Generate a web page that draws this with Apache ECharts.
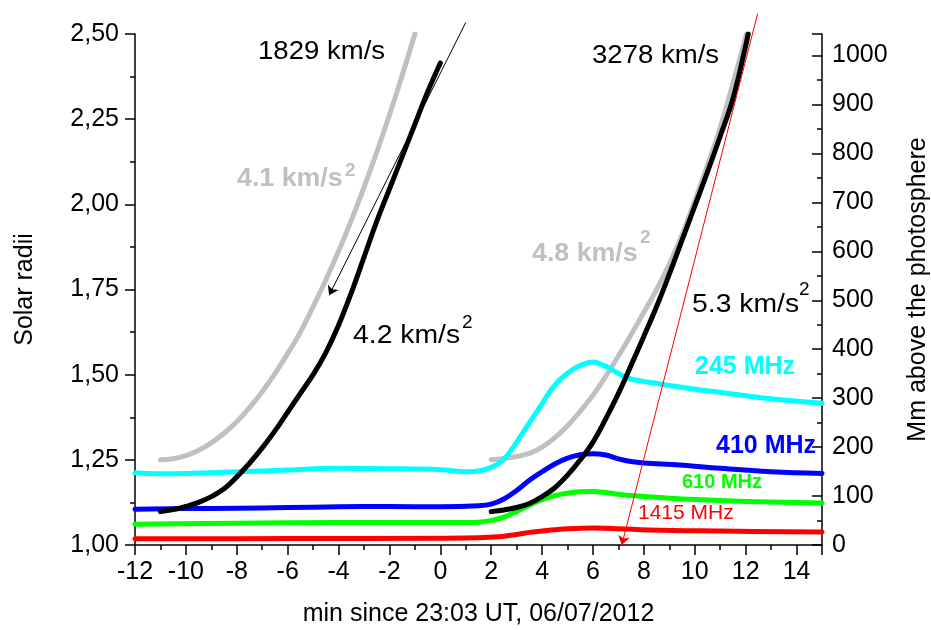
<!DOCTYPE html>
<html><head><meta charset="utf-8">
<script src="https://cdn.jsdelivr.net/npm/echarts@6/dist/echarts.min.js"></script>
<style>html,body{margin:0;padding:0;background:#fff}#c{width:931px;height:630px}</style>
</head><body><div id="c"></div>
<script>
// ---- data (x: min since 23:03 UT; y: solar radii) ----
const fitGrayLeft = [[-11.0,1.25],[-10.5,1.253],[-10.0,1.262],[-9.5,1.278],[-9.0,1.30],[-8.5,1.328],[-8.0,1.362],[-7.5,1.403],[-7.0,1.45],[-6.5,1.503],[-6.0,1.562],[-5.5,1.625],[-5.0,1.70],[-4.5,1.778],[-4.0,1.862],[-3.5,1.953],[-3.0,2.05],[-2.5,2.153],[-2.0,2.262],[-1.5,2.378],[-1.0,2.50]];
const fitBlackLeft = [[-11.0,1.098],[-10.5,1.104],[-10.0,1.113],[-9.5,1.125],[-9.0,1.142],[-8.5,1.165],[-8.0,1.20],[-7.5,1.24],[-7.0,1.285],[-6.5,1.335],[-6.0,1.39],[-5.5,1.445],[-5.0,1.50],[-4.5,1.565],[-4.0,1.645],[-3.5,1.74],[-3.0,1.845],[-2.5,1.95],[-2.0,2.045],[-1.5,2.14],[-1.0,2.235],[-0.5,2.33],[0.0,2.415]];
const fitGrayRight = [[2.0,1.25],[2.5,1.254],[3.0,1.26],[3.5,1.269],[4.0,1.287],[4.5,1.315],[5.0,1.35],[5.5,1.393],[6.0,1.44],[6.5,1.495],[7.0,1.555],[7.5,1.618],[8.0,1.683],[8.5,1.75],[9.0,1.825],[9.5,1.91],[10.0,2.01],[10.5,2.115],[11.0,2.225],[11.5,2.355],[12.0,2.49],[12.03,2.50]];
const fitBlackRight = [[2.0,1.098],[2.5,1.103],[3.0,1.11],[3.5,1.122],[4.0,1.142],[4.5,1.168],[5.0,1.205],[5.5,1.25],[6.0,1.302],[6.5,1.37],[7.0,1.445],[7.5,1.528],[8.0,1.613],[8.5,1.70],[9.0,1.795],[9.5,1.895],[10.0,1.995],[10.5,2.095],[11.0,2.20],[11.5,2.31],[12.0,2.465],[12.1,2.50]];
const mhz245 = [[-12,1.212],[-11,1.209],[-10,1.21],[-8,1.215],[-6,1.22],[-4,1.225],[-2,1.224],[0,1.221],[1,1.215],[1.5,1.217],[2.0,1.228],[2.4,1.245],[2.8,1.28],[3.2,1.325],[3.6,1.37],[4.0,1.415],[4.4,1.46],[4.8,1.492],[5.2,1.515],[5.6,1.53],[6.0,1.537],[6.4,1.528],[6.8,1.512],[7.2,1.495],[7.6,1.485],[8.2,1.478],[9.4,1.464],[10.9,1.449],[12.9,1.43],[15,1.416]];
const mhz410 = [[-12,1.105],[-10,1.107],[-8,1.108],[-6,1.11],[-4,1.112],[-2,1.113],[0,1.112],[1.5,1.115],[2.0,1.12],[2.5,1.135],[3.0,1.16],[3.5,1.19],[4.0,1.215],[4.5,1.238],[5.0,1.255],[5.5,1.265],[6.0,1.268],[6.5,1.264],[7.0,1.253],[7.5,1.245],[8.0,1.241],[9.4,1.235],[11,1.225],[13,1.215],[15,1.21]];
const mhz610 = [[-12,1.061],[-8,1.064],[-4,1.066],[0,1.066],[1.5,1.067],[2.0,1.072],[2.5,1.082],[3.0,1.098],[3.5,1.117],[4.0,1.133],[4.5,1.145],[5.0,1.152],[5.5,1.156],[6.0,1.157],[6.5,1.154],[7.0,1.149],[7.5,1.145],[8.5,1.14],[9.5,1.135],[12,1.128],[15,1.123]];
const mhz1415 = [[-12,1.018],[-6,1.019],[0,1.02],[1.5,1.021],[2.0,1.023],[2.5,1.026],[3.0,1.031],[3.5,1.037],[4.0,1.041],[4.5,1.045],[5.0,1.048],[6.0,1.05],[7.0,1.048],[8.2,1.044],[11,1.041],[15,1.038]];
const arrowBlack = [[1.0,2.534],[-4.37,1.733]];
const arrowRed = [[12.47,2.56],[7.13,1.0]];
const xRange = [-12, 15];
const yRange = [1.0, 2.5];
const MM_PER_RSUN = 696;
const rightRange = [0, (yRange[1]-yRange[0])*MM_PER_RSUN];

// ---- annotation texts ----
const notes = [
  {t:'1829 km/s', x:258, y:52, c:'#000', fs:26, fw:'normal', sx:1.06},
  {t:'3278 km/s', x:592, y:56, c:'#000', fs:26, fw:'normal', sx:1.06},
  {t:'4.1 km/s', x:237, y:179, c:'#c0c0c0', fs:26, fw:'bold', sx:1.03},
  {t:'2', x:345, y:171, c:'#c0c0c0', fs:19, fw:'bold', sx:1.0},
  {t:'4.2 km/s', x:353, y:336, c:'#000', fs:26, fw:'normal', sx:1.09},
  {t:'2', x:462, y:323, c:'#000', fs:19, fw:'normal', sx:1.0},
  {t:'4.8 km/s', x:532, y:254, c:'#c0c0c0', fs:26, fw:'bold', sx:1.03},
  {t:'2', x:640, y:238, c:'#c0c0c0', fs:19, fw:'bold', sx:1.0},
  {t:'5.3 km/s', x:692, y:305, c:'#000', fs:26, fw:'normal', sx:1.09},
  {t:'2', x:799, y:290, c:'#000', fs:19, fw:'normal', sx:1.0},
  {t:'245 MHz', x:695, y:367, c:'#00ffff', fs:25, fw:'bold', sx:1.0},
  {t:'410 MHz', x:716, y:446, c:'#0000ff', fs:25, fw:'bold', sx:1.0},
  {t:'610 MHz', x:682, y:482, c:'#00ff00', fs:20, fw:'bold', sx:1.0},
  {t:'1415 MHz', x:638, y:513, c:'#ff0000', fs:21, fw:'normal', sx:1.0}
];

const F = '"Liberation Sans", Arial, Helvetica, sans-serif';
const chart = echarts.init(document.getElementById('c'));

function lineSeries(data, color, width, z) {
  return {type:'line', data, symbol:'none', smooth:0.4,
    lineStyle:{color, width, cap:'round', join:'round'}, z, silent:true, animation:false};
}

chart.setOption({
  animation:false,
  backgroundColor:'#fff',
  grid:{left:135, right:109, top:34, bottom:85, containLabel:false, outerBoundsMode:'none'},
  xAxis:{type:'value', min:xRange[0], max:xRange[1], interval:2,
    name:'min since 23:03 UT, 06/07/2012', nameLocation:'middle', nameGap:57,
    nameTextStyle:{fontFamily:F, fontSize:25, color:'#000'},
    axisLine:{show:true, onZero:false, lineStyle:{color:'#000', width:1.5}},
    axisTick:{show:true, inside:false, length:10, lineStyle:{color:'#000', width:1.5}},
    minorTick:{show:true, splitNumber:2, length:5, lineStyle:{color:'#000', width:1.5}},
    splitLine:{show:false},
    axisLabel:{fontFamily:F, fontSize:25, color:'#000', margin:15, showMaxLabel:false}
  },
  yAxis:[
    {type:'value', min:yRange[0], max:yRange[1], interval:0.25, position:'left',
      name:'Solar radii', nameLocation:'middle', nameGap:97,
      nameTextStyle:{fontFamily:F, fontSize:25, color:'#000'},
      axisLine:{show:true, onZero:false, lineStyle:{color:'#000', width:1.5}},
      axisTick:{show:true, inside:false, length:10, lineStyle:{color:'#000', width:1.5}},
      minorTick:{show:true, splitNumber:2, length:5, lineStyle:{color:'#000', width:1.5}},
      splitLine:{show:false},
      axisLabel:{fontFamily:F, fontSize:25, color:'#000', margin:16,
        formatter:v => v.toFixed(2).replace('.', ',')}
    },
    {type:'value', min:rightRange[0], max:rightRange[1], interval:100, position:'right',
      name:'Mm above the photosphere', nameLocation:'middle', nameGap:84,
      nameTextStyle:{fontFamily:F, fontSize:25, color:'#000'},
      axisLine:{show:true, onZero:false, lineStyle:{color:'#000', width:1.5}},
      axisTick:{show:true, inside:true, length:10, lineStyle:{color:'#000', width:1.5}},
      minorTick:{show:true, splitNumber:2, length:5, lineStyle:{color:'#000', width:1.5}},
      splitLine:{show:false},
      axisLabel:{fontFamily:F, fontSize:25, color:'#000', margin:10, showMaxLabel:false,
        formatter:v => String(Math.round(v))}
    }
  ],
  series:[
    lineSeries(fitGrayLeft, '#c0c0c0', 5, 2),
    lineSeries(fitGrayRight, '#c0c0c0', 5, 2),
    lineSeries(mhz245, '#00ffff', 5, 3),
    lineSeries(mhz410, '#0000ff', 5, 3),
    lineSeries(mhz610, '#00ff00', 5, 3),
    lineSeries(mhz1415, '#ff0000', 5, 3),
    lineSeries(fitBlackLeft, '#000000', 5, 4),
    lineSeries(fitBlackRight, '#000000', 5, 4),
    {type:'lines', coordinateSystem:'cartesian2d', xAxisIndex:0, yAxisIndex:0, clip:false,
      polyline:false, symbol:['none','arrow'], symbolSize:9, silent:true, z:5,
      lineStyle:{color:'#000', width:1, opacity:1, curveness:0},
      data:[{coords:arrowBlack}]},
    {type:'lines', coordinateSystem:'cartesian2d', xAxisIndex:0, yAxisIndex:0, clip:false,
      polyline:false, symbol:['none','arrow'], symbolSize:9, silent:true, z:5,
      lineStyle:{color:'#ff0000', width:1, opacity:1, curveness:0},
      data:[{coords:arrowRed}]}
  ],
  graphic: notes.map(n => ({
    type:'text', x:n.x, y:n.y, scaleX:n.sx, z:10, silent:true,
    style:{text:n.t, fill:n.c, font:`${n.fw} ${n.fs}px ${F}`, textAlign:'left', textVerticalAlign:'middle'}
  }))
});
</script></body></html>
